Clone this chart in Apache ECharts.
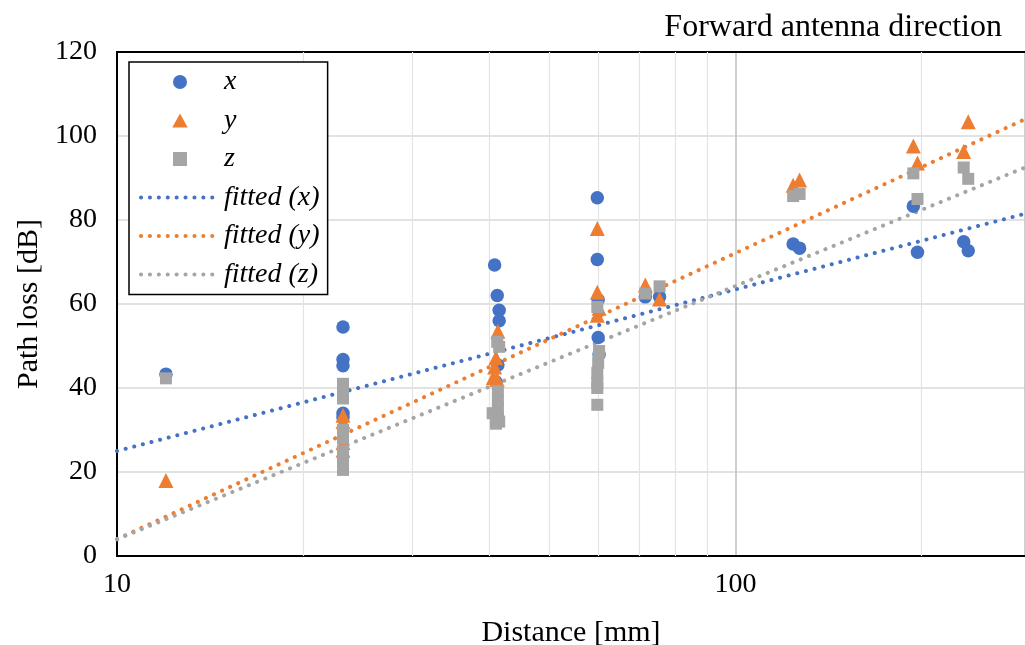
<!DOCTYPE html>
<html>
<head>
<meta charset="utf-8">
<script src="https://cdn.jsdelivr.net/npm/echarts/dist/echarts.min.js"></script>
<style>
  html, body { margin: 0; padding: 0; background: #fff; }
  #chart { width: 1025px; height: 645px; }
</style>
</head>
<body>
<div id="chart"></div>
<script>
// Measured path loss [dB] per antenna axis, as [distance mm, loss dB]
const pointsX = [
  [12, 43.3],
  [23.2, 54.5], [23.2, 46.8], [23.2, 45.3], [23.2, 34], [23.2, 33],
  [40.8, 69.3], [41.2, 62], [41.5, 58.5], [41.5, 56], [41.3, 45.5], [41, 41.5],
  [59.8, 85.3], [59.8, 70.6], [60, 61], [60, 52], [60.2, 48],
  [71.5, 61.7], [75.4, 61.7],
  [124, 74.3], [127, 73.3],
  [194, 83.3], [197, 72.3],
  [234, 74.8], [238, 72.7]
];
const pointsY = [
  [12, 18],
  [23.2, 33.5], [23.2, 32], [23.2, 27], [23.2, 25.2],
  [41.3, 53.5], [41, 47.2], [40.8, 45], [40.6, 42.5], [41.2, 42],
  [59.8, 78], [59.8, 62.8], [60.2, 59], [59.8, 57.3],
  [71.5, 64.5], [75.4, 61.2],
  [124, 88.3], [127, 89.5],
  [194, 97.6], [197, 93.6],
  [234, 96.3], [238, 103.4]
];
const pointsZ = [
  [12, 42.3],
  [23.2, 41], [23.2, 39.5], [23.2, 37.5], [23.2, 30], [23.2, 28], [23.2, 25], [23.2, 23], [23.2, 21.5], [23.2, 20.5],
  [41.2, 51], [41.5, 49.8], [41.3, 39.3], [41.3, 37], [41.3, 35], [41.3, 33], [40.5, 34], [41.5, 32], [41, 31.5],
  [59.8, 59.3], [60.2, 48.8], [60, 46], [59.8, 43.6], [59.8, 41.2], [59.8, 40], [59.8, 36],
  [71.5, 62.5], [75.4, 64.2],
  [124, 85.7], [127, 86.2],
  [194, 91.1], [197, 85],
  [234, 92.5], [238, 89.8]
];
// Log-distance fits (straight on a log axis), given by their end points
const fitX = [[10, 25], [294, 81.5]];
const fitY = [[10, 4], [294, 104]];
const fitZ = [[10, 4], [294, 92.5]];

// Axis settings
const distMin = 10, distMax = 294;
const lossMin = 0, lossMax = 120, lossStep = 20;
const minorDistances = [20, 30, 40, 50, 60, 70, 80, 90, 200];

const colors = { x: '#4472C4', y: '#ED7D31', z: '#A5A5A5' };

const serif = 'Liberation Serif, Times New Roman, serif';
const dots = { width: 4, type: [0.1, 8.8], cap: 'round' };

// Square-proportioned legend glyphs, centred in the wide legend slot
const triPath = 'path://M0,10 L5.5,0 L11,10 Z';
const rectPath = 'path://M0,0 L10,0 L10,10 L0,10 Z';

// Legend entry for a fitted line: dotted stroke only, no marker
function fitEntry(name, color) {
  return {
    name: name,
    itemStyle: { color: 'rgba(0,0,0,0)', borderWidth: 0 },
    lineStyle: Object.assign({ color: color }, dots)
  };
}

const chart = echarts.init(document.getElementById('chart'), null, { renderer: 'canvas' });

chart.setOption({
  animation: false,
  backgroundColor: '#fff',
  title: {
    text: 'Forward antenna direction',
    right: 18, top: 7,
    textStyle: { fontFamily: serif, fontSize: 32, fontWeight: 'normal', color: '#000' }
  },
  grid: { left: 117, right: 0, top: 52, bottom: 89, outerBoundsMode: 'none', containLabel: false },
  legend: {
    data: [
      { name: 'x', icon: 'circle' },
      { name: 'y', icon: triPath },
      { name: 'z', icon: rectPath },
      fitEntry('fitted (x)', colors.x),
      fitEntry('fitted (y)', colors.y),
      fitEntry('fitted (z)', colors.z)
    ],
    orient: 'vertical',
    left: 129, top: 62,
    padding: [6, 8, 6, 10],
    itemWidth: 78, itemHeight: 14,
    itemGap: 10.5,
    symbolKeepAspect: true,
    backgroundColor: '#fff',
    borderColor: '#000', borderWidth: 1.5,
    textStyle: { fontFamily: serif, fontSize: 28, fontStyle: 'italic', color: '#000' }
  },
  xAxis: [{
    type: 'log', logBase: 10, min: distMin, max: distMax,
    name: 'Distance [mm]', nameLocation: 'middle', nameGap: 62,
    nameTextStyle: { fontFamily: serif, fontSize: 30, color: '#000' },
    axisLine: { lineStyle: { color: '#000', width: 2 } },
    axisTick: { show: false },
    axisLabel: { fontFamily: serif, fontSize: 28, color: '#000', margin: 15, showMaxLabel: false },
    splitLine: { show: true, lineStyle: { color: '#bfbfbf', width: 1.5 } }
  }, {
    type: 'log', logBase: 10, min: distMin, max: distMax, position: 'top',
    axisLine: { lineStyle: { color: '#000', width: 2 } },
    axisTick: { show: false }, axisLabel: { show: false }, splitLine: { show: false }
  }],
  yAxis: {
    type: 'value', min: lossMin, max: lossMax, interval: lossStep,
    name: 'Path loss [dB]', nameLocation: 'middle', nameGap: 60,
    nameTextStyle: { fontFamily: serif, fontSize: 30, color: '#000' },
    axisLine: { show: true, lineStyle: { color: '#000', width: 2 } },
    axisTick: { show: false },
    axisLabel: { fontFamily: serif, fontSize: 28, color: '#000', margin: 20 },
    splitLine: { lineStyle: { color: '#d9d9d9', width: 1.5 } }
  },
  series: [
    {
      name: 'fitted (x)', type: 'line', data: fitX, symbol: 'none', z: 3,
      lineStyle: Object.assign({ color: colors.x }, dots), itemStyle: { color: colors.x },
      markLine: {
        silent: true, symbol: 'none', label: { show: false }, z: 1,
        lineStyle: { color: '#e3e3e3', width: 1.2, type: 'solid' },
        data: minorDistances.map(v => ({ xAxis: v }))
      }
    },
    {
      name: 'fitted (y)', type: 'line', data: fitY, symbol: 'none', z: 3,
      lineStyle: Object.assign({ color: colors.y }, dots), itemStyle: { color: colors.y }
    },
    {
      name: 'fitted (z)', type: 'line', data: fitZ, symbol: 'none', z: 3,
      lineStyle: Object.assign({ color: colors.z }, dots), itemStyle: { color: colors.z }
    },
    { name: 'x', type: 'scatter', data: pointsX, symbol: 'circle', symbolSize: 13.5, z: 4, itemStyle: { color: colors.x, opacity: 1 } },
    { name: 'y', type: 'scatter', data: pointsY, symbol: 'triangle', symbolSize: 15, z: 5, itemStyle: { color: colors.y, opacity: 1 } },
    { name: 'z', type: 'scatter', data: pointsZ, symbol: 'rect', symbolSize: 12, z: 6, itemStyle: { color: colors.z, opacity: 1 } }
  ]
});
</script>
</body>
</html>
